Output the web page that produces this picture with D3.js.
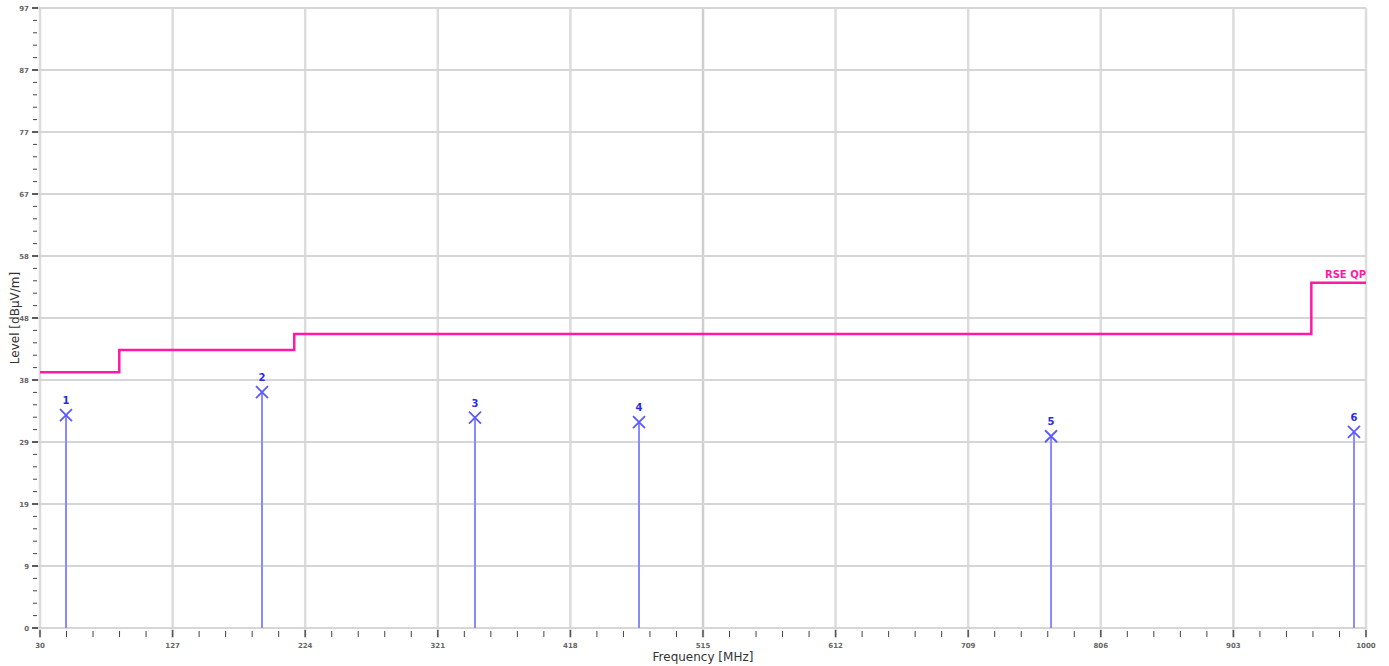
<!DOCTYPE html>
<html><head><meta charset="utf-8">
<script src="https://cdn.jsdelivr.net/npm/d3@7"></script>
<style>body{margin:0;background:#fff;}svg{display:block;font-family:"DejaVu Sans",sans-serif;}</style>
</head><body><svg id="c" width="1389" height="666"></svg>
<script>
const xTickValues = [30,127,224,321,418,515,612,709,806,903,1000];
const xTickLabels = ["30","127","224","321","418","515","612","709","806","903","1000"];
const yTickValues = [0,9.7,19.4,29.1,38.8,48.5,58.2,67.9,77.6,87.3,97];
const yTickLabels = ["0","9","19","29","38","48","58","67","77","87","97"];
const limitFreq  = [30,88,88,216,216,960,960,1000];
const limitLevel = [40,40,43.5,43.5,46,46,54,54];
const limitName = "RSE QP";
const markerIds   = ["1","2","3","4","5","6"];
const markerFreq  = [49.0,192.4,348.2,468.2,769.6,991.2];
const markerLevel = [33.3,36.9,32.9,32.2,30.0,30.7];
const xTitle = "Frequency [MHz]";
const yTitle = "Level [dBµV/m]";

const svg = d3.select("#c");
const L=40,R=1366,T=8,B=628;
const x = d3.scaleLinear().domain([30,1000]).range([L,R]);
const y = d3.scaleLinear().domain([0,97]).range([B,T]);

// grid
svg.append("g").selectAll("line").data(xTickValues).join("line")
  .attr("x1",d=>x(d)).attr("x2",d=>x(d)).attr("y1",T).attr("y2",B+10)
  .attr("stroke",(d,i)=>i===5?"#cfcfcf":"#dcdcdc").attr("stroke-width",2.5);
svg.append("g").selectAll("line").data(yTickValues).join("line")
  .attr("x1",L-8).attr("x2",R).attr("y1",d=>y(d)).attr("y2",d=>y(d))
  .attr("stroke","#d6d6d6").attr("stroke-width",2);

// minor ticks
const xMinor=[], yMinor=[];
for(let i=0;i<xTickValues.length-1;i++){for(let k=1;k<5;k++)xMinor.push(xTickValues[i]+(xTickValues[i+1]-xTickValues[i])*k/5);}
for(let i=0;i<yTickValues.length-1;i++){for(let k=1;k<5;k++)yMinor.push(yTickValues[i]+(yTickValues[i+1]-yTickValues[i])*k/5);}
svg.append("g").selectAll("line").data(xMinor).join("line")
  .attr("x1",d=>x(d)).attr("x2",d=>x(d)).attr("y1",B+3).attr("y2",B+9)
  .attr("stroke","#444").attr("stroke-width",1);
svg.append("g").selectAll("line").data(yMinor).join("line")
  .attr("x1",L-7).attr("x2",L-3).attr("y1",d=>y(d)).attr("y2",d=>y(d))
  .attr("stroke","#444").attr("stroke-width",1);
svg.append("g").selectAll("line").data(yTickValues).join("line")
  .attr("x1",L-8).attr("x2",L-2).attr("y1",d=>y(d)).attr("y2",d=>y(d))
  .attr("stroke","#333").attr("stroke-width",1.5);
svg.append("g").selectAll("line").data(xTickValues).join("line")
  .attr("x1",d=>x(d)).attr("x2",d=>x(d)).attr("y1",B+2).attr("y2",B+9)
  .attr("stroke","#555").attr("stroke-width",1.5);

// tick labels
svg.append("g").selectAll("text").data(xTickValues).join("text")
  .attr("x",d=>x(d)).attr("y",B+20).attr("text-anchor","middle")
  .attr("font-size",7).attr("font-weight","bold").attr("fill","#666")
  .text((d,i)=>xTickLabels[i]);
svg.append("g").selectAll("text").data(yTickValues).join("text")
  .attr("x",L-11).attr("y",d=>y(d)+3).attr("text-anchor","end")
  .attr("font-size",7).attr("font-weight","bold").attr("fill","#666")
  .text((d,i)=>yTickLabels[i]);

// titles
svg.append("text").attr("x",x(515)).attr("y",661).attr("text-anchor","middle")
  .attr("font-size",12).attr("fill","#333").text(xTitle);
svg.append("text").attr("transform",`translate(19,318) rotate(-90)`).attr("text-anchor","middle")
  .attr("font-size",12).attr("fill","#333").text(yTitle);

// limit line
const line = d3.line().x((d,i)=>x(limitFreq[i])).y((d,i)=>y(limitLevel[i]));
svg.append("path").datum(limitFreq).attr("d",line).attr("fill","none")
  .attr("stroke","#ff1aa5").attr("stroke-width",2.5).attr("stroke-linejoin","miter");
svg.append("text").attr("x",x(1000)).attr("y",y(54)-5).attr("text-anchor","end")
  .attr("font-size",10).attr("font-weight","bold").attr("fill","#ff1aa5").text(limitName);

// markers
const mg = svg.append("g").selectAll("g").data(markerIds).join("g");
mg.append("line").attr("x1",(d,i)=>x(markerFreq[i])).attr("x2",(d,i)=>x(markerFreq[i]))
  .attr("y1",(d,i)=>y(markerLevel[i])).attr("y2",B)
  .attr("stroke","#8a8aff").attr("stroke-width",2);
mg.append("path").attr("d",(d,i)=>{const cx=x(markerFreq[i]),cy=y(markerLevel[i]),s=6;
  return `M${cx-s},${cy-s}L${cx+s},${cy+s}M${cx-s},${cy+s}L${cx+s},${cy-s}`;})
  .attr("stroke","#5a5aff").attr("stroke-width",1.8).attr("fill","none");
mg.append("text").attr("x",(d,i)=>x(markerFreq[i])).attr("y",(d,i)=>y(markerLevel[i])-11)
  .attr("text-anchor","middle").attr("font-size",10).attr("font-weight","bold").attr("fill","#2a2ae0")
  .text(d=>d);
</script></body></html>
